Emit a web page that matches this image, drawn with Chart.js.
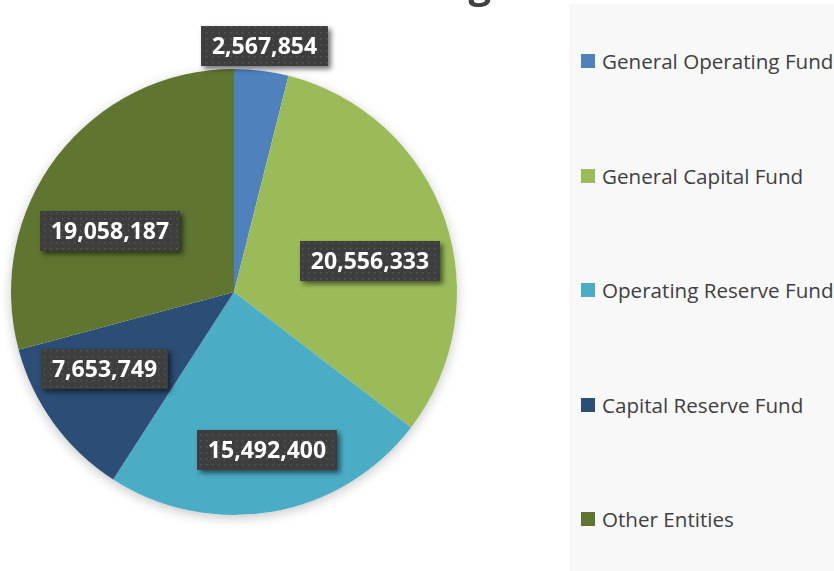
<!DOCTYPE html>
<html>
<head>
<meta charset="utf-8">
<script src="https://cdn.jsdelivr.net/npm/chart.js@4"></script>
<style>
  html, body { margin: 0; padding: 0; background: #fff; overflow: hidden; }
  #wrap { position: relative; width: 834px; height: 571px; overflow: hidden; }
  #legenda {
    position: absolute; left: 569px; top: 4px; width: 300px; height: 580px;
    background: #f8f8f8; font-family: 'Open Sans', sans-serif; font-size: 20.6px; color: #404040;
  }
  .item { height: 114.5px; display: flex; align-items: center; padding-left: 12px; white-space: nowrap; }
  .item .caixa { width: 14px; height: 14px; margin-right: 7px; flex: none; }
  #grafico { position: absolute; left: 0; top: 0; }
</style>
</head>
<body>
<div id="wrap">
  <div id="legenda"></div>
  <canvas id="grafico" width="834" height="571"></canvas>
</div>
<script>
const titulo = 'Total Funding';
const fundos = ['General Operating Fund', 'General Capital Fund', 'Operating Reserve Fund', 'Capital Reserve Fund', 'Other Entities'];
const valores = [2567854, 20556333, 15492400, 7653749, 19058187];
const cores = ['#4f81bd', '#9bbb59', '#4bacc6', '#2c4d75', '#5f7530'];

// where each value box sits: fraction of radius and angle nudge (degrees) from the slice middle
const posicaoRotulos = [
  { f: 1.11, da: 0 },
  { f: 0.626, da: 6.4 },
  { f: 0.722, da: -1.9 },
  { f: 0.674, da: 5.5 },
  { f: 0.62, da: -11.3 }
];

function criarPadrao(ctx) {
  const c = document.createElement('canvas');
  c.width = 6; c.height = 6;
  const p = c.getContext('2d');
  p.fillStyle = '#3e3e3e';
  p.fillRect(0, 0, 6, 6);
  p.fillStyle = '#575757';
  p.fillRect(2, 2, 1.5, 1.5);
  return ctx.createPattern(c, 'repeat');
}

const sombraPlugin = {
  id: 'sombra',
  beforeDatasetsDraw(chart) {
    const arc = chart.getDatasetMeta(0).data[0];
    if (!arc) return;
    const ctx = chart.ctx;
    ctx.save();
    ctx.shadowColor = 'rgba(0,0,0,0.22)';
    ctx.shadowBlur = 12;
    ctx.shadowOffsetY = 3;
    ctx.fillStyle = '#fff';
    ctx.beginPath();
    ctx.arc(arc.x, arc.y, arc.outerRadius, 0, Math.PI * 2);
    ctx.fill();
    ctx.restore();
  }
};

const rotulosPlugin = {
  id: 'rotulos',
  afterDatasetsDraw(chart) {
    const ctx = chart.ctx;
    const meta = chart.getDatasetMeta(0);
    const padrao = criarPadrao(ctx);
    ctx.save();
    ctx.font = 'bold 23px "Open Sans"';
    ctx.textAlign = 'center';
    ctx.textBaseline = 'middle';
    meta.data.forEach((arc, i) => {
      const p = arc.getProps(['x', 'y', 'startAngle', 'endAngle', 'outerRadius'], true);
      const pos = posicaoRotulos[i];
      const ang = (p.startAngle + p.endAngle) / 2 + pos.da * Math.PI / 180;
      const cx = p.x + Math.cos(ang) * p.outerRadius * pos.f;
      const cy = p.y + Math.sin(ang) * p.outerRadius * pos.f;
      const texto = valores[i].toLocaleString('en-US');
      const w = Math.round(ctx.measureText(texto).width + 22);
      const h = 40;
      const x0 = Math.round(cx - w / 2), y0 = Math.round(cy - h / 2);

      ctx.save();
      ctx.shadowColor = 'rgba(0,0,0,0.55)';
      ctx.shadowBlur = 5;
      ctx.shadowOffsetX = 3;
      ctx.shadowOffsetY = 3;
      ctx.fillStyle = '#3e3e3e';
      ctx.fillRect(x0, y0, w, h);
      ctx.restore();

      ctx.fillStyle = padrao;
      ctx.fillRect(x0, y0, w, h);
      ctx.fillStyle = '#fff';
      ctx.fillText(texto, x0 + w / 2, y0 + h / 2 + 1);
    });
    ctx.restore();
  }
};

const tituloPlugin = {
  id: 'titulo',
  afterDraw(chart) {
    const ctx = chart.ctx;
    ctx.save();
    ctx.font = 'bold 40px "Open Sans"';
    ctx.fillStyle = '#404040';
    ctx.textAlign = 'right';
    ctx.textBaseline = 'alphabetic';
    ctx.fillText(titulo, 491, -2);
    ctx.restore();
  }
};

const ctx = document.getElementById('grafico').getContext('2d');
const grafico = new Chart(ctx, {
  type: 'pie',
  data: {
    labels: fundos,
    datasets: [{
      data: valores,
      backgroundColor: cores,
      borderWidth: 0,
      hoverBorderWidth: 0,
      hoverOffset: 0,
      offset: 0
    }]
  },
  options: {
    responsive: false,
    animation: false,
    events: [],
    layout: { padding: { left: 11, right: 377, top: 13, bottom: 0 } },
    plugins: {
      legend: { display: false },
      tooltip: { enabled: false },
      title: { display: false }
    }
  },
  plugins: [sombraPlugin, rotulosPlugin, tituloPlugin]
});

// legend built from the chart's own legend items
const legenda = document.getElementById('legenda');
grafico.options.plugins.legend.labels.generateLabels(grafico).forEach(item => {
  const div = document.createElement('div');
  div.className = 'item';
  const caixa = document.createElement('span');
  caixa.className = 'caixa';
  caixa.style.background = item.fillStyle;
  const txt = document.createElement('span');
  txt.textContent = item.text;
  div.appendChild(caixa);
  div.appendChild(txt);
  legenda.appendChild(div);
});
</script>
</body>
</html>
